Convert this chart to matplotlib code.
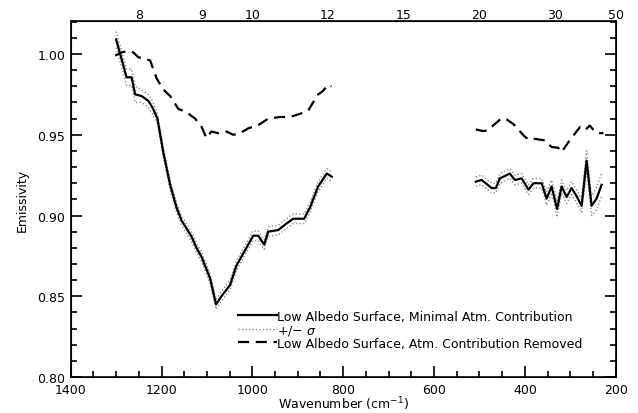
# Emissivity spectrum, low albedo surface
import numpy as np
import matplotlib
matplotlib.use('Agg')
import matplotlib.pyplot as plt
from matplotlib.ticker import MultipleLocator

# Low albedo surface, minimal atm. contribution (two spectral windows)
wn_low_left = [1300, 1288, 1277, 1266, 1258, 1244, 1229, 1220, 1209, 1196, 1181, 1167,
               1156, 1145, 1134, 1123, 1112, 1100, 1093, 1080, 1068, 1049, 1035, 1013,
               998, 987, 974, 965, 943, 925, 910, 886, 873, 855, 836, 825]
emis_low_left = [1.009, 0.997, 0.9856, 0.9856, 0.975, 0.974, 0.971, 0.967, 0.960, 0.939,
                 0.919, 0.905, 0.897, 0.892, 0.887, 0.880, 0.8745, 0.866, 0.861, 0.845,
                 0.850, 0.857, 0.869, 0.880, 0.8875, 0.8875, 0.882, 0.890, 0.891, 0.895,
                 0.898, 0.898, 0.905, 0.918, 0.926, 0.924]
sigma_low_left = [0.005, 0.005, 0.005, 0.005, 0.005, 0.004, 0.004, 0.004, 0.003, 0.003,
                  0.003, 0.003, 0.003, 0.003, 0.003, 0.003, 0.003, 0.003, 0.003, 0.003,
                  0.003, 0.003, 0.003, 0.003, 0.003, 0.003, 0.003, 0.003, 0.003, 0.003,
                  0.003, 0.003, 0.003, 0.003, 0.003, 0.003]

wn_low_right = [508, 495, 473, 464, 455, 433, 422, 407, 392, 381, 363, 352, 341, 329,
                319, 308, 297, 286, 275, 264, 253, 242, 231]
emis_low_right = [0.921, 0.922, 0.917, 0.917, 0.923, 0.926, 0.922, 0.923, 0.916, 0.920,
                  0.920, 0.9105, 0.918, 0.904, 0.918, 0.9115, 0.917, 0.912, 0.906, 0.934,
                  0.906, 0.9105, 0.919]
sigma_low_right = [0.003, 0.003, 0.003, 0.003, 0.003, 0.003, 0.003, 0.003, 0.003, 0.003,
                   0.003, 0.004, 0.004, 0.005, 0.004, 0.004, 0.004, 0.004, 0.004, 0.006,
                   0.006, 0.007, 0.007]

# Low albedo surface, atm. contribution removed
wn_rem_left = [1302, 1288, 1273, 1262, 1251, 1236, 1225, 1211, 1196, 1181, 1163, 1145,
               1126, 1112, 1101, 1090, 1075, 1057, 1042, 1027, 1009, 987, 965, 939,
               917, 895, 877, 862, 855, 845, 833, 826]
emis_rem_left = [0.999, 1.001, 1.002, 1.001, 0.998, 0.997, 0.996, 0.985, 0.978, 0.974,
                 0.966, 0.964, 0.960, 0.955, 0.948, 0.952, 0.951, 0.952, 0.950, 0.951,
                 0.954, 0.956, 0.960, 0.961, 0.961, 0.963, 0.965, 0.972, 0.975, 0.977,
                 0.981, 0.980]

wn_rem_right = [508, 492, 481, 470, 451, 440, 426, 415, 403, 392, 378, 356, 341, 327,
                319, 304, 290, 279, 268, 257, 246, 235, 227]
emis_rem_right = [0.9533, 0.9523, 0.9527, 0.9557, 0.9603, 0.9595, 0.9568, 0.9536, 0.9496,
                  0.947, 0.9475, 0.9465, 0.9424, 0.942, 0.9393, 0.9455, 0.9506, 0.9547,
                  0.9527, 0.9557, 0.952, 0.951, 0.951]

# Wavelength labels (microns) for the top axis
top_microns = [8, 9, 10, 12, 15, 20, 30, 50]

plt.rcParams['font.family'] = 'DejaVu Sans'
plt.rcParams['font.size'] = 9

fig = plt.figure(figsize=(6.38, 4.14), dpi=100)
ax = fig.add_axes([0.1108, 0.087, 0.8542, 0.860])

dot_kw = dict(color='#8c8c8c', lw=1.0, ls=(0, (1, 1.5)))
for wn, e, s in [(wn_low_left, emis_low_left, sigma_low_left),
                 (wn_low_right, emis_low_right, sigma_low_right)]:
    e = np.array(e)
    s = np.array(s)
    ax.plot(wn, e + s, **dot_kw)
    ax.plot(wn, e - s, **dot_kw)

ax.plot(wn_low_left, emis_low_left, color='black', lw=1.6,
        label='Low Albedo Surface, Minimal Atm. Contribution')
ax.plot(wn_low_right, emis_low_right, color='black', lw=1.6)
ax.plot([], [], label='+/$-$ $\\sigma$', **dot_kw)
ax.plot(wn_rem_left, emis_rem_left, color='black', lw=1.6, dashes=(5, 3),
        label='Low Albedo Surface, Atm. Contribution Removed')
ax.plot(wn_rem_right, emis_rem_right, color='black', lw=1.6, dashes=(5, 3))

ax.set_xlim(1400, 200)
ax.set_ylim(0.80, 1.0205)
ax.xaxis.set_major_locator(MultipleLocator(200))
ax.xaxis.set_minor_locator(MultipleLocator(50))
ax.yaxis.set_major_locator(MultipleLocator(0.05))
ax.yaxis.set_minor_locator(MultipleLocator(0.01))
ax.yaxis.set_major_formatter(matplotlib.ticker.FormatStrFormatter('%.2f'))
ax.tick_params(which='both', direction='in', top=True, right=True, width=1.2)
ax.tick_params(which='major', length=8, pad=4)
ax.tick_params(axis='x', which='major', pad=4.5)
ax.tick_params(which='minor', length=4.5)
for sp in ax.spines.values():
    sp.set_linewidth(1.2)

ax.set_xlabel('Wavenumber (cm$^{-1}$)', labelpad=-1)
ax.set_ylabel('Emissivity', labelpad=6)

ax2 = ax.twiny()
ax2.set_xlim(ax.get_xlim())
ax2.set_xticks([10000.0 / m for m in top_microns])
ax2.set_xticklabels([str(m) for m in top_microns])
ax2.tick_params(length=0, pad=0)
ax2.xaxis.set_minor_locator(matplotlib.ticker.NullLocator())

ax.legend(loc='upper left', bbox_to_anchor=(0.307, 0.189), frameon=False,
          handlelength=3.1, handletextpad=0.0, labelspacing=0.0, borderpad=0,
          borderaxespad=0, fontsize=9)

plt.savefig('out.png', dpi=100)
plt.close('all')
